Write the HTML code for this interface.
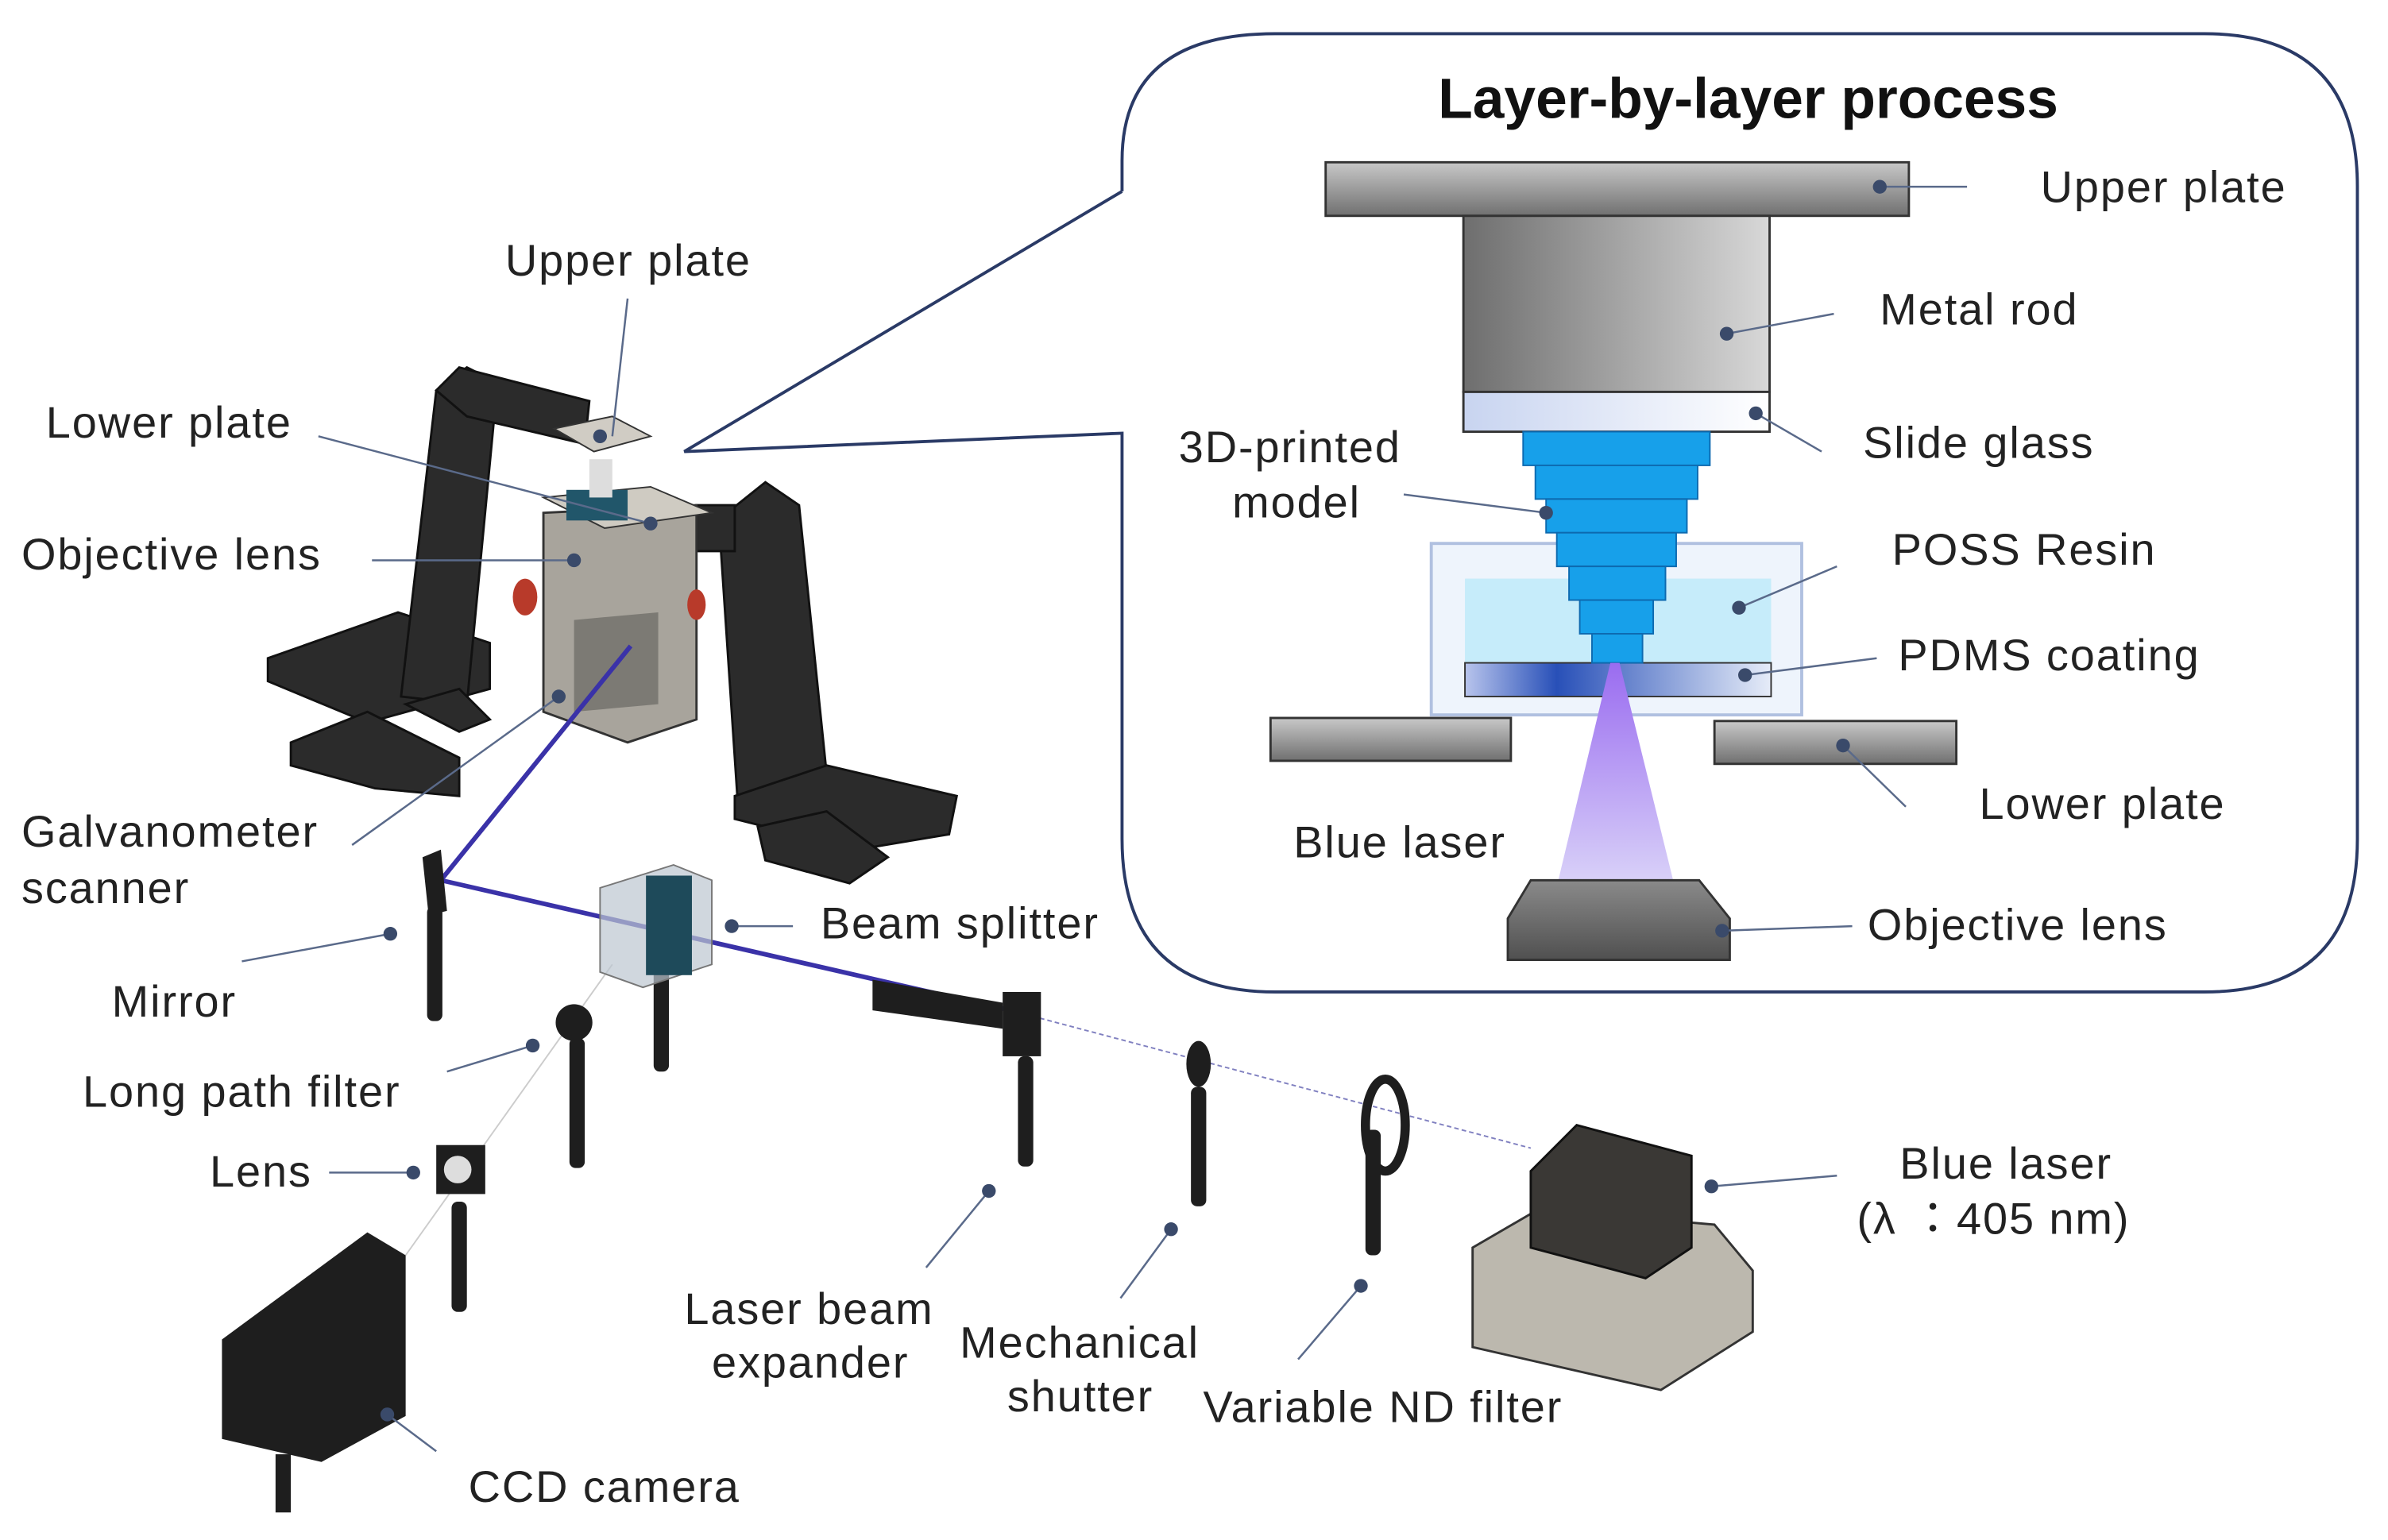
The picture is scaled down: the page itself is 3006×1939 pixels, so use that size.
<!DOCTYPE html>
<html><head><meta charset="utf-8"><style>
html,body{margin:0;padding:0;background:#fff}
svg{display:block}
text{font-family:"Liberation Sans","Noto Sans CJK JP",sans-serif;fill:#222}
</style></head><body>
<svg width="3006" height="1939" viewBox="0 0 1560 1006" preserveAspectRatio="none" xmlns="http://www.w3.org/2000/svg">
<defs>
<linearGradient id="gp" x1="0" y1="0" x2="0" y2="1"><stop offset="0" stop-color="#c8c8c8"/><stop offset="1" stop-color="#707070"/></linearGradient>
<linearGradient id="rod" x1="0" y1="0" x2="1" y2="0"><stop offset="0" stop-color="#6e6e6e"/><stop offset="1" stop-color="#d8d8d8"/></linearGradient>
<linearGradient id="sg" x1="0" y1="0" x2="1" y2="0"><stop offset="0" stop-color="#c8d4f0"/><stop offset="1" stop-color="#ffffff"/></linearGradient>
<linearGradient id="pd" x1="0" y1="0" x2="1" y2="0"><stop offset="0" stop-color="#b8c4ec"/><stop offset="0.3" stop-color="#2850b8"/><stop offset="1" stop-color="#e6ecf8"/></linearGradient>
<linearGradient id="cone" x1="0" y1="0" x2="0" y2="1"><stop offset="0" stop-color="#9a6cf0"/><stop offset="1" stop-color="#d8d0f8"/></linearGradient>
<linearGradient id="obj" x1="0" y1="0" x2="0" y2="1"><stop offset="0" stop-color="#8a8a8a"/><stop offset="1" stop-color="#505050"/></linearGradient>
</defs>
<path d="M733,125 L733,105 Q733,22 833,22 L1440,22 Q1540,22 1540,122 L1540,548 Q1540,648 1440,648 L833,648 Q733,648 733,548 L733,283 L447,295 L733,125" fill="none" stroke="#2a3a66" stroke-width="2"/>
<text x="1142" y="77" font-size="37" font-weight="bold" text-anchor="middle" style="fill:#111">Layer-by-layer process</text>
<rect x="866" y="106" width="381" height="35" fill="url(#gp)" stroke="#333" stroke-width="1.5"/>
<rect x="956" y="141" width="200" height="115" fill="url(#rod)" stroke="#333" stroke-width="1.5"/>
<rect x="956" y="256" width="200" height="26" fill="url(#sg)" stroke="#333" stroke-width="1.5"/>
<rect x="935" y="355" width="242" height="112" fill="#eef4fc" stroke="#b0c0e0" stroke-width="2"/>
<rect x="957" y="378" width="200" height="55" fill="#c6ecfa"/>
<rect x="957" y="433" width="200" height="22" fill="url(#pd)" stroke="#333" stroke-width="1"/>
<g fill="#17a0ea" stroke="#0d6ab0" stroke-width="1">
<rect x="995" y="282" width="122" height="22"/><rect x="1003" y="304" width="106" height="22"/><rect x="1010" y="326" width="92" height="22"/><rect x="1017" y="348" width="78" height="22"/><rect x="1025" y="370" width="63" height="22"/><rect x="1032" y="392" width="48" height="22"/><rect x="1040" y="414" width="33" height="19"/></g>
<rect x="830" y="469" width="157" height="28" fill="url(#gp)" stroke="#333" stroke-width="1.5"/>
<rect x="1120" y="471" width="158" height="28" fill="url(#gp)" stroke="#333" stroke-width="1.5"/>
<polygon points="1052,433 1058,433 1093,575 1018,575" fill="url(#cone)"/>
<polygon points="1000,575 1110,575 1130,600 1130,627 985,627 985,600" fill="url(#obj)" stroke="#333" stroke-width="1.5"/>
<g stroke="#5a6a8a" stroke-width="1.3" fill="none">
<line x1="1228" y1="122" x2="1285" y2="122"/><line x1="1128" y1="218" x2="1198" y2="205"/>
<line x1="1147" y1="270" x2="1190" y2="295"/><line x1="917" y1="323" x2="1010" y2="335"/>
<line x1="1136" y1="397" x2="1200" y2="370"/><line x1="1140" y1="441" x2="1226" y2="430"/>
<line x1="1204" y1="487" x2="1245" y2="527"/><line x1="1125" y1="608" x2="1210" y2="605"/>
</g>
<g fill="#3a4a6a"><circle cx="1228" cy="122" r="4.5"/><circle cx="1128" cy="218" r="4.5"/><circle cx="1147" cy="270" r="4.5"/><circle cx="1010" cy="335" r="4.5"/><circle cx="1136" cy="397" r="4.5"/><circle cx="1140" cy="441" r="4.5"/><circle cx="1204" cy="487" r="4.5"/><circle cx="1125" cy="608" r="4.5"/></g>
<g font-size="29" letter-spacing="1">
<text x="1333" y="132">Upper plate</text><text x="1228" y="212">Metal rod</text><text x="1217" y="299">Slide glass</text>
<text x="770" y="302">3D-printed</text><text x="805" y="338">model</text><text x="1236" y="369">POSS Resin</text>
<text x="1240" y="438">PDMS coating</text><text x="1293" y="535">Lower plate</text><text x="845" y="560">Blue laser</text>
<text x="1220" y="614">Objective lens</text>
</g>
<!-- left apparatus -->
<g fill="#2b2b2b" stroke="#111" stroke-width="1.5">
<polygon points="175,430 260,400 320,420 320,450 240,472 175,445"/>
<polygon points="190,485 240,465 300,495 300,520 245,515 190,500"/>
<polygon points="262,455 285,255 305,240 325,250 305,460"/>
<polygon points="285,255 300,240 385,262 382,290 305,272"/>
<polygon points="265,460 300,450 320,470 300,478"/>
<polygon points="475,335 500,315 522,330 542,525 482,525 470,345"/>
<polygon points="480,520 540,500 625,520 620,545 560,555 480,535"/>
<polygon points="495,540 540,530 580,560 555,577 500,562"/>
<polygon points="455,330 480,330 480,360 455,360"/>
</g>
<polygon points="355,335 455,330 455,470 410,485 355,465" fill="#a8a49c" stroke="#333" stroke-width="1.5"/>
<polygon points="375,405 430,400 430,460 375,465" fill="#7c7a74"/>
<polygon points="355,325 425,318 465,335 395,345" fill="#cfcbc2" stroke="#333"/>
<rect x="370" y="320" width="40" height="20" fill="#21566a"/>
<rect x="385" y="300" width="15" height="25" fill="#ddd"/>
<polygon points="362,280 400,272 425,285 388,295" fill="#d0ccc4" stroke="#333"/>
<ellipse cx="343" cy="390" rx="8" ry="12" fill="#b83a2a"/><ellipse cx="455" cy="395" rx="6" ry="10" fill="#b83a2a"/>
<polyline points="412,422 288,575 660,660" fill="none" stroke="#3a32a8" stroke-width="3"/>
<line x1="660" y1="660" x2="1000" y2="750" stroke="#8080c0" stroke-width="1" stroke-dasharray="3,2"/>
<line x1="400" y1="630" x2="265" y2="820" stroke="#ccc" stroke-width="1"/>
<g fill="#1e1e1e">
<rect x="279" y="592" width="10" height="75" rx="4"/><polygon points="276,560 288,555 292,595 280,598"/>
<rect x="427" y="628" width="10" height="72" rx="4"/>
<rect x="372" y="678" width="10" height="85" rx="4"/><circle cx="375" cy="668" r="12"/>
<rect x="295" y="785" width="10" height="72" rx="4"/><rect x="285" y="748" width="32" height="32"/>
<rect x="665" y="690" width="10" height="72" rx="4"/><polygon points="570,640 655,655 655,672 570,660"/><rect x="655" y="648" width="25" height="42"/>
<rect x="778" y="710" width="10" height="78" rx="4"/><ellipse cx="783" cy="695" rx="8" ry="15"/>
<rect x="892" y="738" width="10" height="82" rx="4"/><ellipse cx="905" cy="735" rx="13" ry="30" fill="none" stroke="#1e1e1e" stroke-width="6"/>
<polygon points="145,875 240,805 265,820 265,925 210,955 145,940"/><rect x="180" y="950" width="10" height="38"/>
</g>
<circle cx="299" cy="764" r="9" fill="#ddd"/>
<polygon points="392,580 440,565 465,575 465,630 420,645 392,635" fill="#bcc6d0" fill-opacity="0.7" stroke="#777"/>
<rect x="422" y="572" width="30" height="65" fill="#1e4a5a"/>
<polygon points="962,815 1005,790 1120,800 1145,830 1145,870 1085,908 962,880" fill="#bcb8ae" stroke="#333" stroke-width="1.5"/>
<polygon points="1000,765 1030,735 1105,755 1105,815 1075,835 1000,815" fill="#3a3835" stroke="#111" stroke-width="1.5"/>
<g stroke="#5a6a8a" stroke-width="1.3" fill="none">
<line x1="400" y1="285" x2="410" y2="195"/><line x1="208" y1="285" x2="425" y2="342"/>
<line x1="243" y1="366" x2="375" y2="366"/><line x1="230" y1="552" x2="365" y2="455"/>
<line x1="158" y1="628" x2="255" y2="610"/><line x1="478" y1="605" x2="518" y2="605"/>
<line x1="292" y1="700" x2="348" y2="683"/><line x1="215" y1="766" x2="270" y2="766"/>
<line x1="605" y1="828" x2="646" y2="778"/><line x1="732" y1="848" x2="765" y2="803"/>
<line x1="848" y1="888" x2="889" y2="840"/><line x1="253" y1="924" x2="285" y2="948"/>
<line x1="1118" y1="775" x2="1200" y2="768"/>
</g>
<g fill="#3a4a6a"><circle cx="392" cy="285" r="4.5"/><circle cx="425" cy="342" r="4.5"/><circle cx="375" cy="366" r="4.5"/><circle cx="365" cy="455" r="4.5"/><circle cx="255" cy="610" r="4.5"/><circle cx="478" cy="605" r="4.5"/><circle cx="348" cy="683" r="4.5"/><circle cx="270" cy="766" r="4.5"/><circle cx="646" cy="778" r="4.5"/><circle cx="765" cy="803" r="4.5"/><circle cx="889" cy="840" r="4.5"/><circle cx="253" cy="924" r="4.5"/><circle cx="1118" cy="775" r="4.5"/></g>
<g font-size="29" letter-spacing="1">
<text x="330" y="180">Upper plate</text><text x="30" y="286">Lower plate</text><text x="14" y="372">Objective lens</text>
<text x="14" y="553">Galvanometer</text><text x="14" y="590">scanner</text><text x="536" y="613">Beam splitter</text>
<text x="73" y="664">Mirror</text><text x="54" y="723">Long path filter</text><text x="137" y="775">Lens</text>
<text x="447" y="865">Laser beam</text><text x="465" y="900">expander</text><text x="627" y="887">Mechanical</text>
<text x="658" y="922">shutter</text><text x="786" y="929">Variable ND filter</text><text x="306" y="981">CCD camera</text>
<text x="1241" y="770">Blue laser</text><text x="1213" y="806">(λ ：405 nm)</text>
</g>
</svg>
</body></html>
